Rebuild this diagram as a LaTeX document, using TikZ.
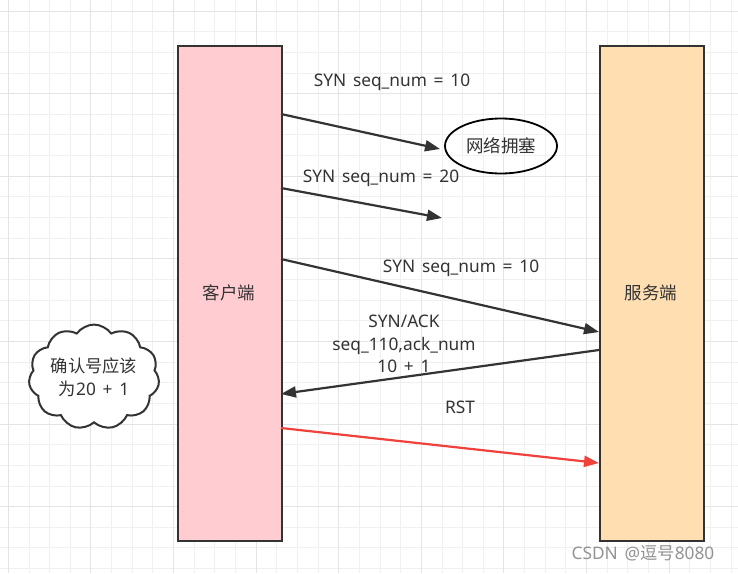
\documentclass[tikz,border=0pt]{standalone}
\usepackage{fontspec}
\setmainfont[WordSpace=1.5]{Noto Sans}
\newfontfamily\cjk{Noto Sans CJK SC}
\usetikzlibrary{arrows.meta,shapes.geometric,shapes.symbols}
\definecolor{clientfill}{HTML}{FFCCD2}
\definecolor{serverfill}{HTML}{FFDFB2}
\definecolor{edge}{HTML}{333333}
\definecolor{rstred}{HTML}{F0413A}
\definecolor{gridminor}{HTML}{F0F0F0}
\definecolor{gridmajor}{HTML}{E4E4E4}
\tikzset{
  party/.style={draw=edge, line width=1.8pt, minimum width=104pt, minimum height=495pt, anchor=north west, inner sep=0pt},
  msg/.style={draw=edge, line width=2.2pt, -{Triangle[length=15pt,width=11pt]}},
  lbl/.style={font=\fontsize{17.3}{21}\selectfont, text=edge, align=center, inner sep=0pt},
}
\begin{document}
\begin{tikzpicture}[x=1pt,y=-1pt]
\useasboundingbox (0,0) rectangle (738,573);
\fill[white] (0,0) rectangle (738,573);
% grid
\foreach \i in {0,...,35} {
  \pgfmathsetmacro{\gx}{8.3+20.65*\i}
  \draw[gridminor, line width=0.9pt] (\gx,0) -- (\gx,573);
}
\foreach \i in {0,...,27} {
  \pgfmathsetmacro{\gy}{11+20.65*\i}
  \draw[gridminor, line width=0.9pt] (0,\gy) -- (738,\gy);
}
\foreach \i in {0,4,...,32} {
  \pgfmathsetmacro{\gx}{8.3+20.65*\i}
  \draw[gridmajor, line width=0.9pt] (\gx,0) -- (\gx,573);
}
\foreach \i in {0,4,...,24} {
  \pgfmathsetmacro{\gy}{11+20.65*\i}
  \draw[gridmajor, line width=0.9pt] (0,\gy) -- (738,\gy);
}
% parties
\node[party, fill=clientfill] (client) at (177,45) {};
\node[party, fill=serverfill] (server) at (599,45) {};
\node[lbl, font=\cjk\fontsize{17.5}{21}\selectfont] (clientlbl) at (229,293) {客户端};
\node[lbl, font=\cjk\fontsize{17.5}{21}\selectfont] (serverlbl) at (651,293) {服务端};
% congestion ellipse
\node[ellipse, draw=black, line width=1.8pt, minimum width=112pt, minimum height=55pt, lbl, font=\cjk\fontsize{17.5}{21}\selectfont] (jam) at (501,146) {网络拥塞};
% anchor coordinates
\coordinate (c1) at (281,114);
\coordinate (e1) at (440,149);
\coordinate (c2) at (281,188);
\coordinate (e2) at (442,218);
\coordinate (c3) at (281,259);
\coordinate (s3) at (599,332);
\coordinate (s4) at (599,350);
\coordinate (c4) at (281,394);
\coordinate (c5) at (281,428);
\coordinate (s5) at (599,463);
\draw[msg] (c1) -- (e1);
\draw[msg] (c2) -- (e2);
\draw[msg] (c3) -- (s3);
\draw[msg] (s4) -- (c4);
\draw[msg, draw=rstred, -{Triangle[length=15pt,width=11pt]}] (c5) -- (s5);
% labels
\node[lbl] (l1) at (392,82) {SYN seq\_num = 10};
\node[lbl] (l2) at (381,178) {SYN seq\_num = 20};
\node[lbl] (l3) at (461,268) {SYN seq\_num = 10};
\node[lbl, font=\fontsize{17.3}{22.5}\selectfont] (l4) at (404,344) {SYN/ACK\\seq\_110,ack\_num\\10 + 1};
\node[lbl] (l5) at (460,407) {RST};
% cloud
\node[cloud, cloud puffs=11, cloud puff arc=110, aspect=1.35, draw=edge, line width=2pt, fill=white, minimum width=128pt, minimum height=95pt, lbl, font=\fontsize{17.3}{23}\selectfont] (note) at (94,377) {{\cjk 确认号应该}\\{\cjk 为}20 + 1};
% watermark
\node[font=\fontsize{17.3}{20}\selectfont, text=gray!85, inner sep=0pt] (wm) at (643,553) {CSDN @{\cjk 逗号}8080};
\end{tikzpicture}
\end{document}
